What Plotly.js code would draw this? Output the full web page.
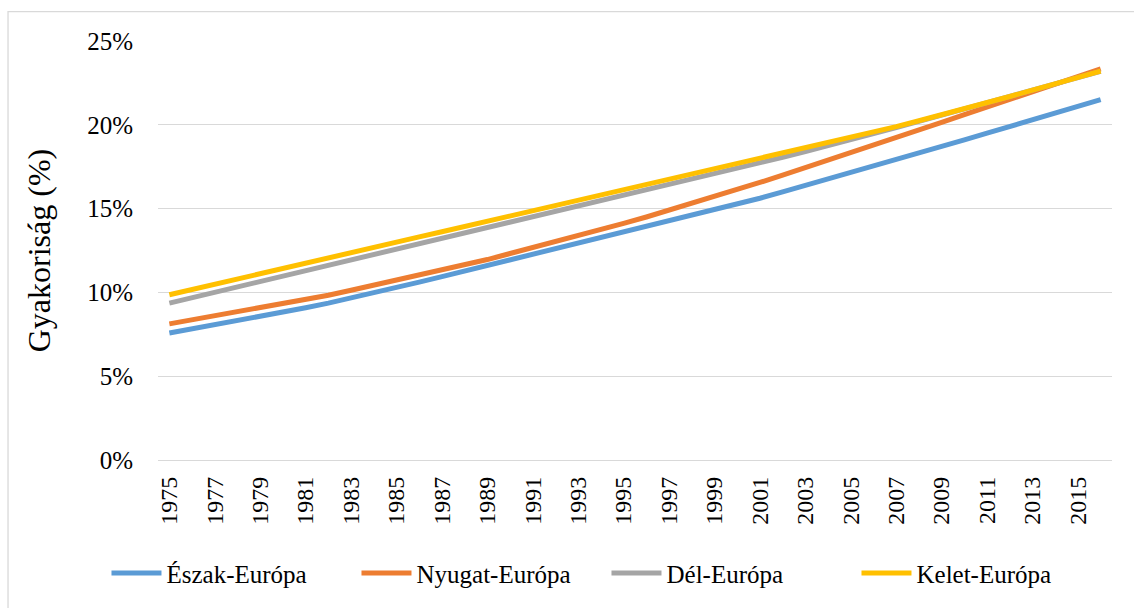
<!DOCTYPE html>
<html>
<head>
<meta charset="utf-8">
<script src="https://cdn.plot.ly/plotly-3.0.1.min.js"></script>
<style>
html,body{margin:0;padding:0;background:#fff;}
#chart{width:1134px;height:608px;}
</style>
</head>
<body>
<div id="chart"></div>
<script>
const years = [1975,1976,1977,1978,1979,1980,1981,1982,1983,1984,1985,1986,1987,1988,1989,1990,1991,1992,1993,1994,1995,1996,1997,1998,1999,2000,2001,2002,2003,2004,2005,2006,2007,2008,2009,2010,2011,2012,2013,2014,2015,2016];

const eszak = [7.58,7.82,8.06,8.31,8.56,8.82,9.08,9.36,9.66,9.97,10.29,10.61,10.94,11.27,11.60,11.93,12.26,12.59,12.92,13.25,13.58,13.91,14.25,14.58,14.92,15.25,15.62,16.00,16.38,16.76,17.14,17.53,17.92,18.31,18.70,19.10,19.50,19.90,20.30,20.70,21.10,21.50];

const nyugat = [8.12,8.36,8.60,8.85,9.09,9.33,9.57,9.83,10.13,10.43,10.73,11.03,11.33,11.63,11.96,12.32,12.67,13.03,13.38,13.74,14.12,14.50,14.90,15.30,15.70,16.11,16.56,17.00,17.44,17.88,18.33,18.77,19.23,19.69,20.14,20.60,21.06,21.51,21.97,22.43,22.88,23.34];

const del = [9.36,9.68,10.00,10.33,10.65,10.97,11.29,11.60,11.92,12.24,12.56,12.88,13.20,13.51,13.84,14.17,14.49,14.81,15.14,15.46,15.78,16.10,16.42,16.75,17.07,17.40,17.73,18.06,18.40,18.74,19.08,19.45,19.83,20.20,20.57,20.94,21.31,21.68,22.06,22.43,22.81,23.19];

const kelet = [9.86,10.18,10.50,10.82,11.14,11.45,11.76,12.07,12.38,12.69,13.00,13.31,13.62,13.93,14.24,14.55,14.86,15.17,15.48,15.79,16.10,16.41,16.72,17.03,17.34,17.65,17.96,18.27,18.58,18.89,19.20,19.54,19.89,20.24,20.59,20.95,21.32,21.69,22.07,22.44,22.82,23.20];

const seriesNames = ["Észak-Európa","Nyugat-Európa","Dél-Európa","Kelet-Európa"];
const xTickVals = years.filter((y,i)=>i%2===0);
const xTickText = xTickVals.map(String);
const yTickVals = [0,5,10,15,20,25];
const yTickText = ["0%","5%","10%","15%","20%","25%"];

const colors = ["#5B9BD5","#ED7D31","#A5A5A5","#FFC000"];
const data = [eszak,nyugat,del,kelet].map((vals,i)=>({
  x: years, y: vals, name: seriesNames[i], type:"scatter", mode:"lines",
  line:{color:colors[i], width:5}
}));

const font = "Liberation Serif";
const layout = {
  width:1134, height:608,
  margin:{l:158, r:22, t:41, b:140},
  paper_bgcolor:"#fff", plot_bgcolor:"#fff",
  font:{family:font, color:"#000"},
  showlegend:true,
  legend:{orientation:"h", x:-0.054, xanchor:"left", y:-0.27, yanchor:"middle",
          font:{size:25, family:font}, itemwidth:50, entrywidth:185, traceorder:"normal"},
  xaxis:{type:"linear", range:[1974.5,2016.5], tickvals:xTickVals, ticktext:xTickText,
         tickangle:-90, tickfont:{size:24, family:font}, showgrid:false, zeroline:false,
         showline:false, ticks:"", ticklabelstandoff:11},
  yaxis:{range:[0,25], tickvals:yTickVals, ticktext:yTickText, tickfont:{size:25, family:font},
         showgrid:true, gridcolor:"#d9d9d9", gridwidth:1, zeroline:true, zerolinecolor:"#d9d9d9",
         zerolinewidth:1, showline:false, ticks:"", ticklabelstandoff:24,
         title:{text:"Gyakoriság (%)", font:{size:32, family:font}, standoff:26}},
  shapes:[{type:"rect", xref:"paper", yref:"paper", x0:-0.1572, x1:1.3, y0:-0.6, y1:1.0703,
           line:{color:"#d9d9d9", width:1.3}, fillcolor:"rgba(0,0,0,0)", layer:"below"}]
};
Plotly.newPlot("chart", data, layout, {displayModeBar:false, staticPlot:true});
</script>
</body>
</html>
